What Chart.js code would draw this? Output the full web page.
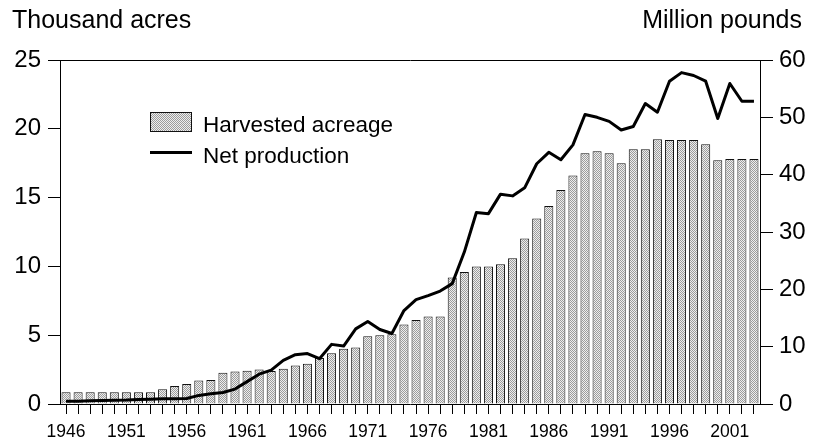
<!DOCTYPE html>
<html>
<head>
<meta charset="utf-8">
<script src="https://cdn.jsdelivr.net/npm/chart.js@4/dist/chart.umd.min.js"></script>
<style>
  html, body { margin: 0; padding: 0; background: #fff; }
  #wrap { width: 817px; height: 440px; position: relative; }
</style>
</head>
<body>
<div id="wrap"><canvas id="c"></canvas></div>
<script>
// ---- Data ----
const years = [];
for (let y = 1946; y <= 2003; y++) years.push(String(y));

const harvestedAcreage = [
  0.85, 0.85, 0.85, 0.85, 0.85, 0.85, 0.85, 0.85, // 1946-1953
  1.07, 1.31, 1.45, 1.70, 1.75, 2.28, 2.37, 2.42, 2.50, 2.40, // 1954-1963
  2.57, 2.79, 2.93, 3.34, 3.68, 4.02, 4.10, 4.92, 4.99, 5.06, // 1964-1973
  5.77, 6.10, 6.35, 6.35, 9.20, 9.59, 10.00, 10.00, 10.15, 10.59, // 1974-1983
  12.02, 13.49, 14.39, 15.55, 16.60, 18.22, 18.36, 18.22, 17.49, 18.51, // 1984-1993
  18.51, 19.24, 19.19, 19.19, 19.19, 18.87, 17.71, 17.80, 17.80, 17.80  // 1994-2003
];

const netProduction = [
  0.5, 0.5, 0.55, 0.6, 0.65, 0.7, 0.8, 0.85, 0.9, 0.9, // 1946-1955
  0.95, 1.5, 1.8, 2.0, 2.6, 3.9, 5.2, 5.9, 7.6, 8.6,   // 1956-1965
  8.8, 7.9, 10.4, 10.1, 13.1, 14.4, 13.0, 12.3, 16.3, 18.2, // 1966-1975
  18.9, 19.7, 21.0, 26.5, 33.4, 33.2, 36.6, 36.3, 37.7, 41.9, // 1976-1985
  43.9, 42.6, 45.2, 50.5, 50.0, 49.3, 47.8, 48.4, 52.4, 50.9, // 1986-1995
  56.3, 57.8, 57.3, 56.3, 49.8, 55.9, 52.8, 52.8             // 1996-2003
];

const leftTitle = "Thousand acres";
const rightTitle = "Million pounds";
const seriesLabels = ["Harvested acreage", "Net production"];

// ---- Styles ----
const FONT = "'Liberation Sans', Arial, Helvetica, sans-serif";

function makePattern() {
  const p = document.createElement('canvas');
  p.width = 2; p.height = 2;
  const g = p.getContext('2d');
  g.fillStyle = '#eeeeee'; g.fillRect(0, 0, 2, 2);
  g.fillStyle = '#9c9c9c'; g.fillRect(0, 0, 1, 1); g.fillRect(1, 1, 1, 1);
  return g.createPattern(p, 'repeat');
}
const stipple = makePattern();

const decorPlugin = {
  id: 'decor',
  afterDraw(chart) {
    const ctx = chart.ctx;
    ctx.save();
    ctx.fillStyle = '#000';
    ctx.font = "25px " + FONT;
    ctx.textBaseline = 'alphabetic';
    ctx.textAlign = 'left';
    ctx.fillText(leftTitle, 12, 28);
    ctx.textAlign = 'right';
    ctx.fillText(rightTitle, 802, 28);

    // legend
    ctx.fillStyle = stipple;
    ctx.fillRect(150, 112, 42, 20);
    ctx.strokeStyle = '#111';
    ctx.lineWidth = 1;
    ctx.strokeRect(150.5, 112.5, 41, 19);
    ctx.beginPath();
    ctx.lineWidth = 3;
    ctx.strokeStyle = '#000';
    ctx.moveTo(150, 152.5);
    ctx.lineTo(192, 152.5);
    ctx.stroke();
    ctx.fillStyle = '#000';
    ctx.font = "22.5px " + FONT;
    ctx.textAlign = 'left';
    ctx.fillText(seriesLabels[0], 203, 132);
    ctx.fillText(seriesLabels[1], 203, 163);
    ctx.restore();
  }
};

new Chart(document.getElementById('c'), {
  data: {
    labels: years,
    datasets: [
      {
        type: 'line',
        label: seriesLabels[1],
        data: netProduction,
        yAxisID: 'y1',
        borderColor: '#000',
        borderWidth: 3,
        pointRadius: 0,
        tension: 0,
        fill: false,
        order: 1,
        borderJoinStyle: 'round'
      },
      {
        type: 'bar',
        label: seriesLabels[0],
        data: harvestedAcreage,
        yAxisID: 'y',
        backgroundColor: stipple,
        borderColor: '#111',
        borderWidth: 1,
        barPercentage: 0.75,
        categoryPercentage: 1.0,
        order: 2
      }
    ]
  },
  options: {
    responsive: true,
    maintainAspectRatio: false,
    animation: false,
    layout: { padding: { top: 60, bottom: 0, left: 0, right: 0 } },
    plugins: {
      legend: { display: false },
      tooltip: { enabled: false },
      title: { display: false }
    },
    scales: {
      x: {
        type: 'category',
        offset: true,
        grid: {
          offset: false,
          drawOnChartArea: false,
          drawTicks: true,
          tickLength: 10,
          tickColor: '#000'
        },
        border: { display: true, color: '#000', width: 1 },
        ticks: {
          autoSkip: false,
          maxRotation: 0,
          minRotation: 0,
          padding: 8,
          color: '#000',
          font: { family: FONT, size: 17.5 },
          callback: function (val, idx) {
            const yr = Number(this.getLabelForValue(val));
            return (yr - 1946) % 5 === 0 ? String(yr) : '';
          }
        },
        afterFit(scale) { scale.height = 36; }
      },
      y: {
        position: 'left',
        min: 0,
        max: 25,
        grid: {
          drawOnChartArea: true,
          color: (c) => (c.tick && c.tick.value === 25 ? '#000' : 'rgba(0,0,0,0)'),
          tickColor: '#000',
          tickLength: 12
        },
        border: { display: true, color: '#000', width: 1 },
        ticks: {
          stepSize: 5,
          padding: 7,
          color: '#000',
          font: { family: FONT, size: 24 }
        },
        afterFit(scale) { scale.width = 60; }
      },
      y1: {
        position: 'right',
        min: 0,
        max: 60,
        grid: {
          drawOnChartArea: false,
          tickColor: '#000',
          tickLength: 13
        },
        border: { display: true, color: '#000', width: 1 },
        ticks: {
          stepSize: 10,
          padding: 6,
          color: '#000',
          font: { family: FONT, size: 24 }
        },
        afterFit(scale) { scale.width = 57; }
      }
    }
  },
  plugins: [decorPlugin]
});
</script>
</body>
</html>
